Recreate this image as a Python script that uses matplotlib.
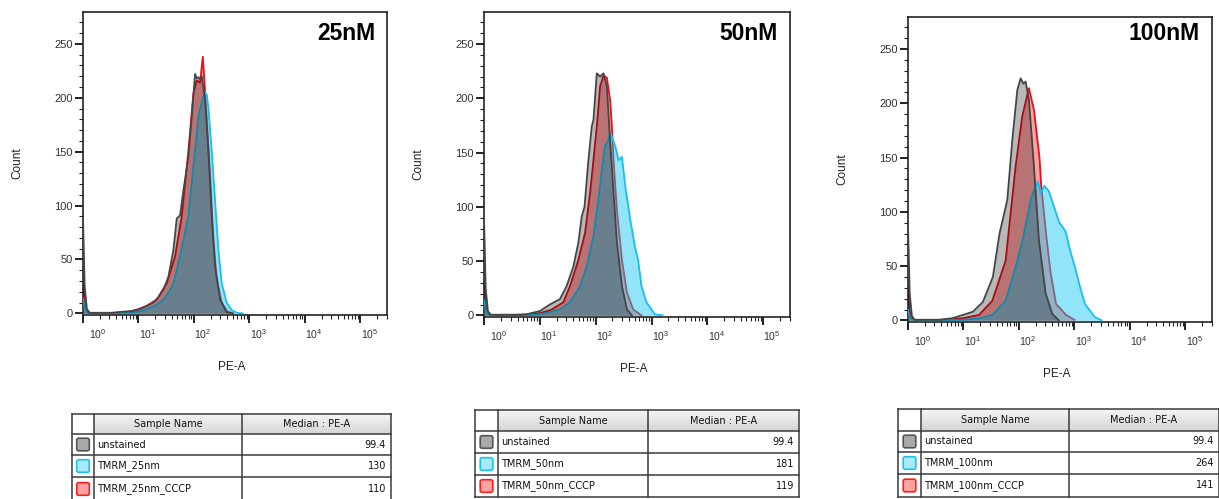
import matplotlib
matplotlib.use("Agg")
import matplotlib.pyplot as plt
import matplotlib.transforms as mtransforms
from matplotlib.patches import Rectangle, FancyBboxPatch
from matplotlib.ticker import LogLocator, MultipleLocator, FixedLocator, NullFormatter
import numpy as np

plt.rcParams['font.family'] = ['Liberation Sans', 'DejaVu Sans']
plt.rcParams['mathtext.default'] = 'regular'

# ---------------------------------------------------------------- data
concentrations = ["25nM", "50nM", "100nM"]

sample_names = [
    ["unstained", "TMRM_25nm", "TMRM_25nm_CCCP"],
    ["unstained", "TMRM_50nm", "TMRM_50nm_CCCP"],
    ["unstained", "TMRM_100nm", "TMRM_100nm_CCCP"],
]
median_pe_a = [
    ["99.4", "130", "110"],
    ["99.4", "181", "119"],
    ["99.4", "264", "141"],
]

# histogram outlines: x = log10(PE-A), y = event count
unstained_25_log = [0.00, 0.03, 0.07, 0.12, 0.50, 0.70, 0.85, 1.03, 1.15, 1.27, 1.36, 1.45, 1.54, 1.63,
                    1.69, 1.75, 1.81, 1.90, 1.96, 2.02, 2.05, 2.08, 2.11, 2.14, 2.20, 2.26, 2.32, 2.38,
                    2.47, 2.59, 2.70]
unstained_25_cnt = [88, 25, 4, 0.5, 0.5, 1.5, 2, 4, 7, 10, 15, 22, 34, 59,
                    88, 91, 114, 145, 182, 222, 218, 219, 217, 220, 198, 151, 90, 44,
                    13, 1, 0]
tmrm_25_log = [0.00, 0.03, 0.07, 0.12, 0.80, 1.05, 1.21, 1.33, 1.45, 1.55, 1.63, 1.75, 1.90, 1.99,
               2.08, 2.15, 2.20, 2.23, 2.26, 2.32, 2.38, 2.44, 2.50, 2.59, 2.68, 2.77, 2.88]
tmrm_25_cnt = [14, 6, 1, 0.3, 0.5, 2, 5, 8, 13, 20, 28, 53, 90, 136,
               182, 198, 205, 203, 191, 151, 105, 59, 28, 10, 3, 0.6, 0]
cccp_25_log = [0.00, 0.03, 0.07, 0.12, 0.60, 0.90, 1.15, 1.33, 1.51, 1.66, 1.78, 1.90, 1.99, 2.05,
               2.11, 2.16, 2.19, 2.23, 2.29, 2.35, 2.41, 2.50, 2.60, 2.70]
cccp_25_cnt = [30, 10, 2, 0.5, 0.5, 2, 7, 13, 28, 53, 90, 151, 204, 216,
               214, 238, 214, 182, 130, 70, 32, 10, 2, 0]

unstained_50_log = [0.00, 0.03, 0.07, 0.12, 0.58, 0.76, 1.00, 1.18, 1.36, 1.48, 1.60, 1.69, 1.75, 1.80,
                    1.87, 1.93, 1.96, 2.02, 2.08, 2.14, 2.20, 2.26, 2.32, 2.38, 2.47, 2.56, 2.65]
unstained_50_cnt = [90, 25, 4, 0.5, 0.6, 1, 4, 10, 15, 27, 45, 67, 91, 100,
                    143, 174, 180, 223, 220, 223, 211, 159, 113, 67, 27, 5.5, 0]
tmrm_50_log = [0.00, 0.03, 0.07, 0.12, 0.90, 1.10, 1.36, 1.54, 1.72, 1.84, 1.96, 2.05, 2.11, 2.17,
               2.22, 2.26, 2.35, 2.41, 2.47, 2.53, 2.62, 2.70, 2.76, 2.82, 2.91, 3.06, 3.20]
tmrm_50_cnt = [14, 6, 1, 0.3, 0.5, 2, 5.5, 12, 27, 45, 73, 107, 134, 157,
               160, 169, 156, 143, 146, 119, 88, 64, 51, 27, 12, 1, 0]
cccp_50_log = [0.00, 0.03, 0.07, 0.12, 0.70, 1.00, 1.20, 1.42, 1.54, 1.69, 1.81, 1.90, 1.96, 2.02,
               2.08, 2.14, 2.20, 2.26, 2.29, 2.32, 2.38, 2.47, 2.56, 2.67, 2.82]
cccp_50_cnt = [32, 10, 2, 0.5, 0.5, 2, 5, 12, 27, 51, 76, 113, 143, 174,
               211, 221, 219, 198, 174, 143, 97, 51, 21, 5.5, 0]

unstained_100_log = [0.00, 0.03, 0.07, 0.12, 0.55, 0.80, 0.99, 1.17, 1.35, 1.53, 1.65, 1.70, 1.79, 1.88,
                     1.97, 2.03, 2.08, 2.12, 2.18, 2.27, 2.36, 2.48, 2.60, 2.72]
unstained_100_cnt = [88, 25, 4, 0.5, 0.5, 2, 5, 8, 17, 40, 80, 91, 111, 166,
                     212, 223, 218, 220, 203, 142, 74, 25, 6, 0]
tmrm_100_log = [0.00, 0.03, 0.07, 0.12, 1.00, 1.30, 1.52, 1.76, 1.94, 2.07, 2.22, 2.34, 2.39, 2.46,
                2.54, 2.63, 2.72, 2.84, 2.93, 3.01, 3.10, 3.19, 3.37, 3.49]
tmrm_100_cnt = [10, 4, 1, 0.3, 0.5, 2, 5, 18, 49, 75, 113, 128, 117, 124,
                119, 105, 91, 82, 63, 49, 31, 15, 3, 0]
cccp_100_log = [0.00, 0.03, 0.07, 0.12, 0.70, 1.00, 1.28, 1.52, 1.76, 1.94, 2.06, 2.18, 2.27, 2.37,
                2.40, 2.49, 2.57, 2.67, 2.85, 3.00]
cccp_100_cnt = [28, 9, 2, 0.5, 0.5, 2, 5, 18, 55, 142, 188, 214, 194, 150,
                125, 79, 44, 15, 5, 0.5]

panels = [
    dict(unstained=(unstained_25_log, unstained_25_cnt), tmrm=(tmrm_25_log, tmrm_25_cnt),
         cccp=(cccp_25_log, cccp_25_cnt)),
    dict(unstained=(unstained_50_log, unstained_50_cnt), tmrm=(tmrm_50_log, tmrm_50_cnt),
         cccp=(cccp_50_log, cccp_50_cnt)),
    dict(unstained=(unstained_100_log, unstained_100_cnt), tmrm=(tmrm_100_log, tmrm_100_cnt),
         cccp=(cccp_100_log, cccp_100_cnt)),
]

decades = [0, 1, 2, 3, 4, 5]
count_ticks = [0, 50, 100, 150, 200, 250]

# ---------------------------------------------------------------- styles
# drawn bottom to top: CCCP (red), TMRM (cyan), unstained (gray)
series_style = [
    ("cccp", "#ff0000", 0.37, "#e8101a"),
    ("tmrm", "#13c6f0", 0.46, "#18bfee"),
    ("unstained", "#000000", 0.28, "#454545"),
]
swatch_style = [("#a9a9a9", "#555555"), ("#a6eafc", "#19c2f0"), ("#ffa3a3", "#ff1e1e")]

W, H = 1219, 499
fig = plt.figure(figsize=(W / 100, H / 100), dpi=100)

# pixel-space overlay used for the sample tables
ov = fig.add_axes([0, 0, 1, 1])
ov.set_xlim(0, W)
ov.set_ylim(H, 0)
ov.axis("off")


def px_axes(left, top, right, bottom):
    return fig.add_axes([left / W, 1 - bottom / H, (right - left) / W, (bottom - top) / H])


axes_boxes = [(83, 12, 387, 315), (484, 12, 790, 317), (908, 17, 1212, 322)]
title_offset = [(-12, -21), (-12, -21), (-12, -17)]

for i, box in enumerate(axes_boxes):
    ax = px_axes(*box)
    data = panels[i]
    for z, (key, fc, alpha, lc) in enumerate(series_style):
        lx, cnt = data[key]
        x = 10 ** np.asarray(lx)
        y = np.asarray(cnt)
        ax.fill_between(x, y, 0, color=fc, alpha=alpha, lw=0, zorder=2 + z)
        ax.plot(x, y, color=lc, lw=1.3, zorder=2.5 + z, solid_joinstyle="round")

    ax.set_xscale("log")
    ax.set_xlim(1, 10 ** 5.48)
    ax.set_ylim(-1.5, 279.5)

    ax.xaxis.set_major_locator(FixedLocator([10.0 ** d for d in decades]))
    ax.xaxis.set_minor_locator(LogLocator(base=10, subs=np.arange(2, 10), numticks=20))
    ax.xaxis.set_minor_formatter(NullFormatter())
    ax.set_xticklabels([r"$10^{%d}$" % d for d in decades])
    ax.set_yticks(count_ticks)
    ax.set_yticklabels([str(t) for t in count_ticks])
    ax.yaxis.set_minor_locator(MultipleLocator(10))

    ax.tick_params(axis="both", which="major", direction="out", length=5.5, width=1.3,
                   color="#111111", labelsize=8, labelcolor="#333333")
    ax.tick_params(axis="both", which="minor", direction="out", length=3, width=0.8,
                   color="#222222")
    ax.tick_params(axis="x", which="major", pad=3, labelsize=7.5)
    ax.tick_params(axis="y", which="major", pad=2)

    for j, lab in enumerate(ax.get_xticklabels()):
        dx = 15 if j == 0 else 9
        lab.set_transform(lab.get_transform() +
                          mtransforms.ScaledTranslation(dx / 100, 0, fig.dpi_scale_trans))

    for sp in ax.spines.values():
        sp.set_linewidth(1.2)
        sp.set_color("#222222")

    ax.text(-0.216, 0.5, "Count", transform=ax.transAxes, rotation=90,
            ha="center", va="center", fontsize=8.5, color="#222222")
    ax.text(0.49, -0.172, "PE-A", transform=ax.transAxes,
            ha="center", va="center", fontsize=8.5, color="#222222")
    ax.annotate(concentrations[i], xy=(1, 1), xycoords="axes fraction",
                xytext=title_offset[i], textcoords="offset pixels",
                ha="right", va="center", fontsize=16.5, fontweight="bold", color="black")

# ---------------------------------------------------------------- tables
table_cols = [(72, 94, 242, 391), (475, 498, 648, 799), (898, 921, 1069, 1219)]
table_rows = [(414, 434, 455, 477, 501), (410, 431, 453, 475, 497), (409, 431, 452, 474, 497)]
headers = ["Sample Name", "Median : PE-A"]
tfont = dict(family=["DejaVu Sans"], fontsize=7, color="#111111")
edge = "#3a3a3a"

grad = np.linspace(0, 1, 32).reshape(-1, 1)
hdr_cmap = matplotlib.colors.LinearSegmentedColormap.from_list("hdr", ["#f4f4f4", "#d6d6d6"])
for i in range(3):
    xs = table_cols[i]
    ys = table_rows[i]
    ov.add_patch(Rectangle((xs[0], ys[0]), xs[3] - xs[0], ys[-1] - ys[0], fc="white", ec="none"))
    ov.imshow(grad, cmap=hdr_cmap, extent=(xs[1], xs[3], ys[1], ys[0]), aspect="auto", zorder=1)
    for yy in ys:
        ov.plot([xs[0], xs[3]], [yy, yy], color=edge, lw=1.1, zorder=3)
    for xx in xs:
        ov.plot([xx, xx], [ys[0], ys[-1]], color=edge, lw=1.1, zorder=3)
    hy = (ys[0] + ys[1]) / 2
    ov.text((xs[1] + xs[2]) / 2, hy, headers[0], ha="center", va="center", zorder=4, **tfont)
    ov.text((xs[2] + xs[3]) / 2, hy, headers[1], ha="center", va="center", zorder=4, **tfont)
    for r in range(3):
        y0, y1 = ys[r + 1], ys[r + 2]
        ym = (y0 + y1) / 2
        cx = (xs[0] + xs[1]) / 2
        fc, ec = swatch_style[r]
        ov.add_patch(FancyBboxPatch((cx - 5.5, ym - 5.5), 11, 11,
                                    boxstyle="round,pad=0.8,rounding_size=2",
                                    fc=fc, ec=ec, lw=1.2, zorder=4))
        ov.text(xs[1] + 3, ym, sample_names[i][r], ha="left", va="center", zorder=4, **tfont)
        ov.text(xs[3] - 5, ym, median_pe_a[i][r], ha="right", va="center", zorder=4, **tfont)

ov.set_xlim(0, W)
ov.set_ylim(H, 0)

fig.savefig("out.png", dpi=100)
